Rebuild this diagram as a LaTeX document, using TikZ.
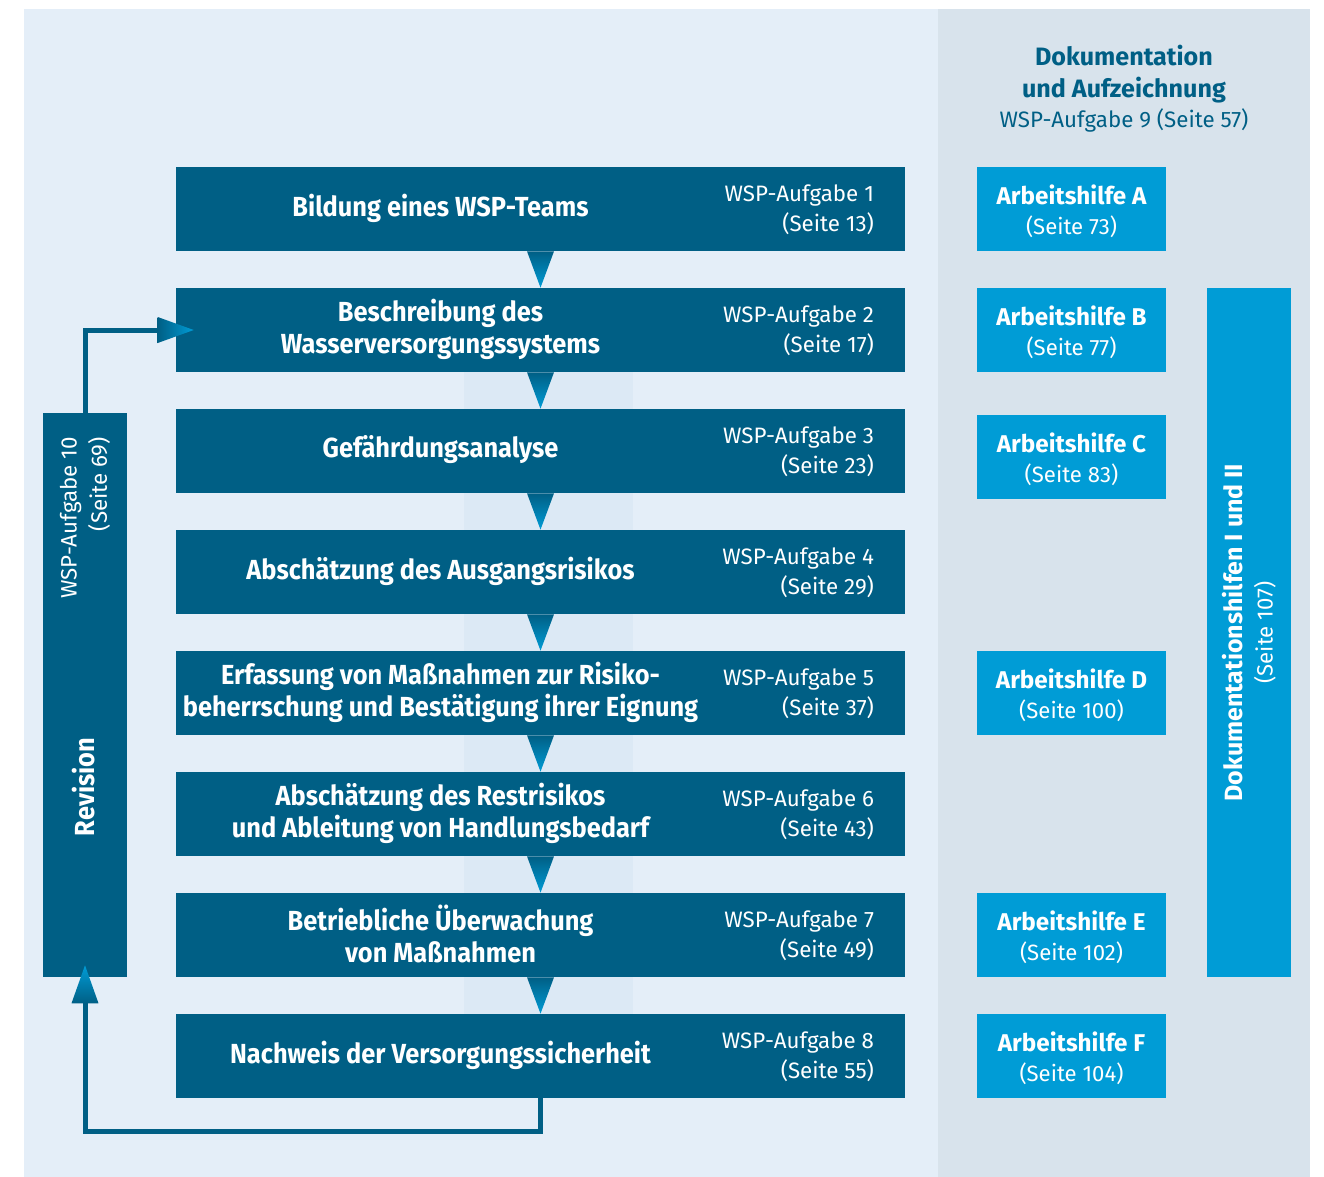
\documentclass[tikz,border=0pt]{standalone}
\usepackage{fontspec}
\setmainfont{Fira Sans}
\newfontfamily\titlefont{Fira Sans}[FakeStretch=0.92]
\usetikzlibrary{positioning}

\definecolor{wspdark}{HTML}{005F85}
\definecolor{wsplight}{HTML}{009CD6}
\definecolor{bgleft}{HTML}{E4EEF8}
\definecolor{bgright}{HTML}{D8E3EC}
\definecolor{bgband}{HTML}{DCE9F5}

\tikzset{
  task/.style={fill=wspdark, minimum width=14.58cm, minimum height=1.68cm, inner sep=0pt},
  help/.style={fill=wsplight, minimum width=3.78cm, minimum height=1.68cm, inner sep=0pt},
  tasktitle/.style={text=white, align=center, inner sep=0pt, font=\titlefont\fontsize{15.7}{18.2}\selectfont\bfseries},
  taskref/.style={text=white, align=right, inner sep=0pt, font=\fontsize{12.7}{17.1}\selectfont},
  helptext/.style={text=white, align=center, inner sep=0pt, font=\fontsize{13.8}{17.1}\selectfont\bfseries},
  loopline/.style={draw=wspdark, line width=0.1cm},
  tipdown/.style={top color=wspdark, bottom color=wsplight},
  tipup/.style={top color=wsplight, bottom color=wspdark},
  tipright/.style={left color=wspdark, right color=wsplight}
}

\begin{document}
\begin{tikzpicture}[x=0.02cm, y=-0.02cm]
\useasboundingbox (0,0) rectangle (1324,1176);
% backgrounds
\fill[bgleft] (24,9) rectangle (938,1200);
\fill[bgright] (938,9) rectangle (1310,1200);
\fill[bgband] (464,372) rectangle (633,1014);

% WSP tasks
\foreach \i/\y/\title/\page in {
    1/209/{Bildung eines WSP-Teams}/13,
    2/330/{Beschreibung des\\Wasserversorgungssystems}/17,
    3/451/{Gefährdungsanalyse}/23,
    4/572/{Abschätzung des Ausgangsrisikos}/29,
    5/693/{Erfassung von Maßnahmen zur Risiko-\\beherrschung und Bestätigung ihrer Eignung}/37,
    6/814/{Abschätzung des Restrisikos\\und Ableitung von Handlungsbedarf}/43,
    7/935/{Betriebliche Überwachung\\von Maßnahmen}/49,
    8/1056/{Nachweis der Versorgungssicherheit}/55}
{
  \node[task] (t\i) at (540.5,\y) {};
  \node[tasktitle] (tl\i) at ([xshift=-2cm,yshift=0.02cm]t\i.center) {\title};
  \node[taskref, anchor=east] (tr\i) at ([xshift=-0.62cm,yshift=-0.02cm]t\i.east) {WSP-Aufgabe \i\\(Seite \page)};
}
\foreach \i [evaluate=\i as \j using int(\i+1)] in {1,...,7}
  \path[tipdown] ([xshift=-0.27cm]t\i.south) -- ([xshift=0.27cm]t\i.south) -- (t\j.north) -- cycle;

% revision
\node[task, minimum width=1.68cm, minimum height=11.28cm] (rev) at (85,695) {};
\node[taskref, rotate=90, anchor=east] (revref) at ([yshift=-0.48cm]rev.north) {WSP-Aufgabe 10\\(Seite 69)};
\node[tasktitle, rotate=90] (revtitle) at (84,787) {Revision};
\draw[loopline] (t8.south) -- ++(0,33) -| ([yshift=-0.52cm]rev.south);
\path[tipup] ([xshift=-0.27cm,yshift=-0.52cm]rev.south) -- ([xshift=0.27cm,yshift=-0.52cm]rev.south) -- ([yshift=0.24cm]rev.south) -- cycle;
\draw[loopline] (rev.north) |- ([xshift=-0.36cm]t2.west);
\path[tipright] ([xshift=-0.36cm,yshift=0.26cm]t2.west) -- ([xshift=-0.36cm,yshift=-0.26cm]t2.west) -- ([xshift=0.36cm]t2.west) -- cycle;

% documentation
\node[text=wspdark, align=center, inner sep=0pt, font=\fontsize{14.3}{18.2}\selectfont\bfseries] (doctitle) at (1124,74) {Dokumentation\\und Aufzeichnung};
\node[text=wspdark, inner sep=0pt, font=\fontsize{12.7}{17.1}\selectfont] (docref) at (1124,120) {WSP-Aufgabe 9 (Seite 57)};
\foreach \l/\y/\p in {A/209/73, B/330/77, C/457/83, D/693/100, E/935/102, F/1056/104}
{
  \node[help] (h\l) at (1071.5,\y) {};
  \node[helptext] (hl\l) at ([yshift=-0.04cm]h\l.center) {Arbeitshilfe \l\\{\fontsize{12.6}{17.1}\selectfont\mdseries (Seite \p)}};
}
\node[help, minimum width=1.68cm, minimum height=13.78cm] (dok) at (1249,632.5) {};
\node[helptext, rotate=90, font=\fontsize{14.2}{17.1}\selectfont\bfseries] (doktext) at (dok.center) {Dokumentationshilfen I und II\\{\fontsize{12.6}{17.1}\selectfont\mdseries (Seite 107)}};
\end{tikzpicture}
\end{document}
